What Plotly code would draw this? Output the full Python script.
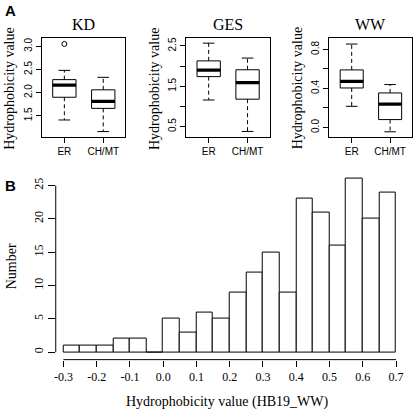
import plotly.graph_objects as go

# ---------------- data ----------------
groups = ["ER", "CH/MT"]

# KD panel box stats
kd_low = [1.41, 1.16]
kd_q1 = [1.90, 1.66]
kd_med = [2.16, 1.81]
kd_q3 = [2.28, 2.06]
kd_high = [2.48, 2.33]
kd_out_group = [1]
kd_out_val = [3.05]

# GES panel box stats
ges_low = [1.16, 0.38]
ges_q1 = [1.74, 1.18]
ges_med = [1.90, 1.59]
ges_q3 = [2.13, 1.91]
ges_high = [2.57, 2.20]

# WW panel box stats
ww_low = [0.217, -0.044]
ww_q1 = [0.405, 0.081]
ww_med = [0.473, 0.240]
ww_q3 = [0.590, 0.354]
ww_high = [0.855, 0.440]

# Histogram (HB19_WW)
bin_left = [-0.30, -0.25, -0.20, -0.15, -0.10, -0.05, 0.00, 0.05, 0.10, 0.15,
            0.20, 0.25, 0.30, 0.35, 0.40, 0.45, 0.50, 0.55, 0.60, 0.65]
bin_counts = [1, 1, 1, 2, 2, 0, 5, 3, 6, 5,
              9, 12, 15, 9, 23, 21, 16, 26, 20, 24]
bin_width = 0.05
hist_xticks = [-0.3, -0.2, -0.1, 0.0, 0.1, 0.2, 0.3, 0.4, 0.5, 0.6, 0.7]
hist_xticklabels = ["-0.3", "-0.2", "-0.1", "0.0", "0.1", "0.2", "0.3", "0.4", "0.5", "0.6", "0.7"]
hist_yticks = [0, 5, 10, 15, 20, 25]

SERIF = "Liberation Serif"
SANS = "Liberation Sans"
W, H = 415, 413

def px_x(p):
    return p / W

def px_y(p):
    return 1 - p / H

fig = go.Figure()

BOX_HALF = 0.30
CAP_HALF = 0.15

def add_box_panel(idx, low, q1, med, q3, high):
    xa = "x" if idx == 1 else f"x{idx}"
    ya = "y" if idx == 1 else f"y{idx}"
    for i in range(len(groups)):
        c = i + 1
        # box body
        fig.add_trace(go.Scatter(
            x=[c - BOX_HALF, c + BOX_HALF, c + BOX_HALF, c - BOX_HALF, c - BOX_HALF],
            y=[q1[i], q1[i], q3[i], q3[i], q1[i]],
            mode="lines", line=dict(color="black", width=1),
            xaxis=xa, yaxis=ya, showlegend=False, hoverinfo="skip"))
        # median
        fig.add_trace(go.Scatter(
            x=[c - BOX_HALF, c + BOX_HALF], y=[med[i], med[i]],
            mode="lines", line=dict(color="black", width=3.2),
            xaxis=xa, yaxis=ya, showlegend=False, hoverinfo="skip"))
        # whiskers (dashed)
        fig.add_trace(go.Scatter(
            x=[c, c, None, c, c], y=[q3[i], high[i], None, q1[i], low[i]],
            mode="lines", line=dict(color="black", width=1, dash="4px,3px"),
            xaxis=xa, yaxis=ya, showlegend=False, hoverinfo="skip"))
        # caps
        fig.add_trace(go.Scatter(
            x=[c - CAP_HALF, c + CAP_HALF, None, c - CAP_HALF, c + CAP_HALF],
            y=[high[i], high[i], None, low[i], low[i]],
            mode="lines", line=dict(color="black", width=1),
            xaxis=xa, yaxis=ya, showlegend=False, hoverinfo="skip"))

add_box_panel(1, kd_low, kd_q1, kd_med, kd_q3, kd_high)
fig.add_trace(go.Scatter(
    x=kd_out_group, y=kd_out_val, mode="markers",
    marker=dict(symbol="circle-open", size=5, color="black", line=dict(width=1)),
    xaxis="x", yaxis="y", showlegend=False, hoverinfo="skip"))
add_box_panel(2, ges_low, ges_q1, ges_med, ges_q3, ges_high)
add_box_panel(3, ww_low, ww_q1, ww_med, ww_q3, ww_high)

# histogram
fig.add_trace(go.Bar(
    x=[b + bin_width / 2 for b in bin_left], y=bin_counts, width=bin_width,
    marker=dict(color="white", line=dict(color="black", width=1)),
    xaxis="x4", yaxis="y4", showlegend=False, hoverinfo="skip"))

box_xaxis = dict(range=[0.42, 2.57], tickvals=[1, 2], ticktext=groups,
                 showline=True, mirror=True, linecolor="black", linewidth=1,
                 ticks="outside", ticklen=5, tickcolor="black", tickwidth=1,
                 showgrid=False, zeroline=False,
                 tickfont=dict(family=SANS, size=10, color="black"),
                 fixedrange=True)
box_yaxis = dict(showline=True, mirror=True, linecolor="black", linewidth=1,
                 ticks="outside", ticklen=5, tickcolor="black", tickwidth=1,
                 showgrid=False, zeroline=False, tickangle=-90,
                 tickfont=dict(family=SANS, size=10, color="black"),
                 fixedrange=True)

ydom = [px_y(136), px_y(37)]
panels = [(40, 124), (185, 269), (329, 412)]

fig.update_layout(
    width=W, height=H, margin=dict(l=0, r=0, t=0, b=0),
    paper_bgcolor="white", plot_bgcolor="white",
    bargap=0,
    xaxis=dict(box_xaxis, domain=[px_x(panels[0][0]), px_x(panels[0][1])], anchor="y"),
    yaxis=dict(box_yaxis, domain=ydom, anchor="x", range=[1.05, 3.18],
               tickvals=[1.5, 2.0, 2.5, 3.0], ticktext=["1.5", "2.0", "2.5", "3.0"]),
    xaxis2=dict(box_xaxis, domain=[px_x(panels[1][0]), px_x(panels[1][1])], anchor="y2"),
    yaxis2=dict(box_yaxis, domain=ydom, anchor="x2", range=[0.25, 2.70],
                tickvals=[0.5, 1.0, 1.5, 2.0, 2.5], ticktext=["0.5", "", "1.5", "", "2.5"]),
    xaxis3=dict(box_xaxis, domain=[px_x(panels[2][0]), px_x(panels[2][1])], anchor="y3"),
    yaxis3=dict(box_yaxis, domain=ydom, anchor="x3", range=[-0.094, 0.918],
                tickvals=[0.0, 0.2, 0.4, 0.6, 0.8], ticktext=["0.0", "", "0.4", "", "0.8"]),
    xaxis4=dict(domain=[px_x(54), px_x(405)], anchor="y4", range=[-0.323, 0.727],
                tickvals=hist_xticks, ticktext=hist_xticklabels,
                showline=False, ticks="outside", ticklen=6, tickcolor="black",
                showgrid=False, zeroline=False,
                tickfont=dict(family=SERIF, size=12, color="black"), fixedrange=True),
    yaxis4=dict(domain=[px_y(359.5), px_y(171)], anchor="x4", range=[-1.12, 27.1],
                tickvals=hist_yticks, showline=False, ticks="outside", ticklen=7,
                tickcolor="black", showgrid=False, zeroline=False, tickangle=-90,
                tickfont=dict(family=SERIF, size=12, color="black"), fixedrange=True),
)

# histogram axis lines (R style, spanning first to last tick)
fig.add_shape(type="line", xref="x4", yref="paper", x0=hist_xticks[0], x1=hist_xticks[-1],
              y0=px_y(359.5), y1=px_y(359.5), line=dict(color="black", width=1))
fig.add_shape(type="line", xref="paper", yref="y4", x0=px_x(54), x1=px_x(54),
              y0=hist_yticks[0], y1=hist_yticks[-1], line=dict(color="black", width=1))

annots = []
titles = ["KD", "GES", "WW"]
ylab_x = [8, 154, 297]
for (l, r), t, yx in zip(panels, titles, ylab_x):
    annots.append(dict(text=t, x=px_x((l + r) / 2), y=px_y(24), xref="paper", yref="paper",
                       showarrow=False, font=dict(family=SERIF, size=16, color="black"),
                       xanchor="center", yanchor="middle"))
    annots.append(dict(text="Hydrophobicity value", x=px_x(yx), y=px_y(88), xref="paper",
                       yref="paper", showarrow=False, textangle=-90,
                       font=dict(family=SERIF, size=14, color="black"),
                       xanchor="center", yanchor="middle"))
annots.append(dict(text="<b>A</b>", x=px_x(9), y=px_y(10), xref="paper", yref="paper",
                   showarrow=False, font=dict(family=SANS, size=15, color="black"),
                   xanchor="center", yanchor="middle"))
annots.append(dict(text="<b>B</b>", x=px_x(9), y=px_y(185), xref="paper", yref="paper",
                   showarrow=False, font=dict(family=SANS, size=15, color="black"),
                   xanchor="center", yanchor="middle"))
annots.append(dict(text="Number", x=px_x(9), y=px_y(266), xref="paper", yref="paper",
                   showarrow=False, textangle=-90,
                   font=dict(family=SERIF, size=14, color="black"),
                   xanchor="center", yanchor="middle"))
annots.append(dict(text="Hydrophobicity value (HB19_WW)", x=px_x(227), y=px_y(402),
                   xref="paper", yref="paper", showarrow=False,
                   font=dict(family=SERIF, size=14, color="black"),
                   xanchor="center", yanchor="middle"))
fig.update_layout(annotations=annots)

fig.write_html("out.html", config={"displayModeBar": False},
               post_script="document.body.style.margin='0';document.body.style.overflow='hidden';")
